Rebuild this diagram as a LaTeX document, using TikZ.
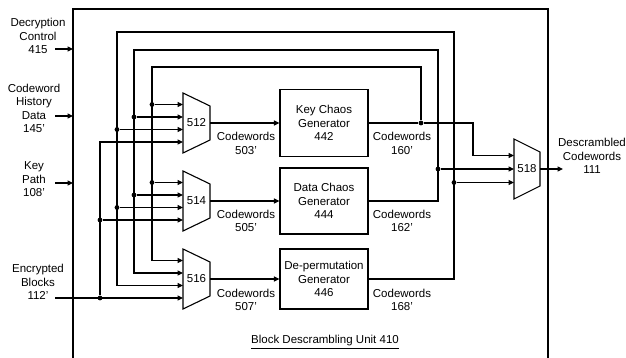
\documentclass[tikz,border=0pt]{standalone}
\usepackage{fontspec}
\setmainfont{Liberation Sans}
\usetikzlibrary{arrows.meta}
\tikzset{
  wire/.style={line width=1.1pt},
  arr/.style={wire,-{Triangle[length=5.5pt,width=5pt]}},
  dotn/.style={circle,fill=black,inner sep=0pt,minimum size=4.8pt},
  gbox/.style={draw,line width=1.1pt,minimum width=88pt,inner sep=0pt,align=center},
  lbl/.style={inner sep=0pt,align=center},
  every node/.style={font=\fontsize{11.5}{13.5}\selectfont}
}
\newcommand\muxfour[4]{%
  \draw[wire] (#2,#3) -- ({#2+27},{#3+13}) -- ({#2+27},{#3+47}) -- (#2,{#3+60}) -- cycle;
  \node[lbl] (#1) at ({#2+13.5},{#3+30}) {#4};
  \coordinate (#1-i1) at (#2,{#3+11.5});
  \coordinate (#1-i2) at (#2,{#3+24});
  \coordinate (#1-i3) at (#2,{#3+36.5});
  \coordinate (#1-i4) at (#2,{#3+49});
  \coordinate (#1-o) at ({#2+27},{#3+30});
}
\begin{document}
\begin{tikzpicture}[x=1pt,y=-1pt]
\useasboundingbox (0,0) rectangle (626,358);
% outer unit
\draw[wire] (73,362) |- (548,9) -- (548,362);
% muxes
\muxfour{m512}{183}{93}{512}
\muxfour{m514}{183}{171}{514}
\muxfour{m516}{183}{249}{516}
% mux 518
\draw[wire] (514,139) -- (540,152) -- (540,186) -- (514,199) -- cycle;
\node[lbl] (m518) at (527,169) {518};
\coordinate (m518-i1) at (514,155.5);
\coordinate (m518-i2) at (514,169);
\coordinate (m518-i3) at (514,182.5);
\coordinate (m518-o) at (540,169);
% generator boxes
\node[gbox,minimum height=67pt] (g442) at (324,123) {Key Chaos\\Generator\\442};
\node[gbox,minimum height=66pt] (g444) at (324,201) {Data Chaos\\Generator\\444};
\node[gbox,minimum height=60pt] (g446) at (324,279) {De-permutation\\Generator\\446};
% bus coordinates
\coordinate (bA) at (100,0);
\coordinate (bR4) at (473,0);
\coordinate (tB) at (117,32);
\coordinate (tC) at (134,50);
\coordinate (tD) at (152,67);
\coordinate (tR1) at (421,67);
\coordinate (tR2) at (438,50);
\coordinate (tR3) at (454,32);
% left labels and inputs
\node[lbl] (dcL) at (38,36) {Decryption\\Control\\415};
\node[lbl] (chL) at (34,108.5) {Codeword\\History\\Data\\145'};
\node[lbl] (kpL) at (34,179.5) {Key\\Path\\108'};
\node[lbl] (ebL) at (38,282) {Encrypted\\Blocks\\112'};
\coordinate (dcS) at (55,49);  \coordinate (dcE) at (73,49);
\coordinate (chS) at (55,116); \coordinate (chE) at (73,116);
\coordinate (kpS) at (55,183); \coordinate (kpE) at (73,183);
\coordinate (ebS) at (55,298);
\draw[arr] (dcS) -- (dcE);
\draw[arr] (chS) -- (chE);
\draw[arr] (kpS) -- (kpE);
% encrypted blocks bus
\draw[arr] (ebS) -- (m516-i4);
\node[dotn] (dA3) at (bA |- m516-i4) {};
\node[dotn] (dA2) at (bA |- m514-i4) {};
\draw[arr] (dA3) |- (m512-i4);
\draw[arr] (dA2) -- (m514-i4);
% mux -> generators
\draw[arr] (m512-o) -- (g442.west);
\draw[arr] (m514-o) -- (g444.west);
\draw[arr] (m516-o) -- (g446.west);
% key chaos feedback
\node[dotn] (k1) at (tR1 |- g442.east) {};
\draw[wire] (g442.east) -- (k1);
\draw[arr] (k1) -- (bR4 |- k1) |- (m518-i1);
\draw[arr] (k1) -- (tR1) -- (tD) |- (m516-i1);
\node[dotn] (dD1) at (tD |- m512-i1) {};
\node[dotn] (dD2) at (tD |- m514-i1) {};
\draw[arr] (dD1) -- (m512-i1);
\draw[arr] (dD2) -- (m514-i1);
% data chaos feedback
\draw[arr] (g444.east) -| (tR2) -- (tC) |- (m516-i2);
\node[dotn] (dR2) at (tR2 |- m518-i2) {};
\draw[arr] (dR2) -- (m518-i2);
\node[dotn] (dC1) at (tC |- m512-i2) {};
\node[dotn] (dC2) at (tC |- m514-i2) {};
\draw[arr] (dC1) -- (m512-i2);
\draw[arr] (dC2) -- (m514-i2);
% de-permutation feedback
\draw[arr] (g446.east) -| (tR3) -- (tB) |- (m516-i3);
\node[dotn] (dR3) at (tR3 |- m518-i3) {};
\draw[arr] (dR3) -- (m518-i3);
\node[dotn] (dB1) at (tB |- m512-i3) {};
\node[dotn] (dB2) at (tB |- m514-i3) {};
\draw[arr] (dB1) -- (m512-i3);
\draw[arr] (dB2) -- (m514-i3);
% output
\coordinate (outE) at (563,169);
\draw[arr] (m518-o) -- (outE);
\node[lbl] (dsL) at (592,156) {Descrambled\\Codewords\\111};
% codeword labels
\node[lbl] (c503) at (246,143.5) {Codewords\\503'};
\node[lbl] (c160) at (402,143.5) {Codewords\\160'};
\node[lbl] (c505) at (246,221) {Codewords\\505'};
\node[lbl] (c162) at (402,221) {Codewords\\162'};
\node[lbl] (c507) at (246,300) {Codewords\\507'};
\node[lbl] (c168) at (402,300) {Codewords\\168'};
\node[lbl] (title) at (325,342) {\underline{Block Descrambling Unit 410}};
\end{tikzpicture}
\end{document}
